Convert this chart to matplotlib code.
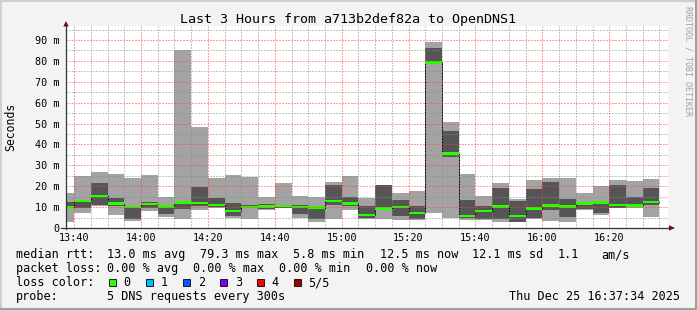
import matplotlib
matplotlib.use("Agg")
import matplotlib.pyplot as plt
from matplotlib.patches import Rectangle, Polygon

# 5-minute bins, start time in minutes after 13:00 (13:35 ... 16:30)
bin_start = list(range(35, 215, 5))
# smoke: outer range (min..max ping) and inner range, all in ms
light_lo = [3.1, 7.3, 10.5, 6.2, 3.5, 8.3, 5.4, 4.5, 8.8, 9.6,
            4.8, 4.5, 8.7, 9.5, 4.8, 3.0, 4.3, 8.7, 4.5, 4.3,
            3.8, 3.8, 7.3, 4.8, 3.8, 4.0, 3.0, 3.0, 4.3, 3.4,
            2.8, 8.7, 6.3, 9.4, 9.8, 5.3]
light_hi = [16.8, 25.0, 26.8, 25.8, 24.1, 25.4, 15.0, 85.2, 48.5, 24.1,
            25.4, 24.5, 15.0, 21.7, 15.3, 15.0, 22.0, 25.0, 14.5, 20.7,
            16.8, 17.8, 89.0, 50.7, 25.9, 15.3, 21.5, 14.0, 23.0, 24.0,
            24.0, 16.8, 20.1, 23.0, 22.5, 23.4]
dark_lo = [10.6, 9.6, 11.2, 10.3, 4.4, 9.7, 6.9, 9.2, 10.7, 10.2,
           5.8, 9.6, 9.2, 9.8, 6.7, 4.3, 10.8, 10.7, 5.0, 9.4,
           5.8, 4.3, 79.4, 34.0, 4.8, 4.1, 4.1, 3.0, 4.6, 8.6,
           5.2, 9.2, 7.4, 9.4, 10.2, 10.8]
dark_hi = [12.5, 12.4, 21.6, 14.4, 10.7, 12.6, 10.8, 13.0, 19.8, 14.5,
           12.1, 10.9, 11.6, 11.0, 10.8, 10.5, 20.6, 14.9, 10.5, 20.6,
           13.4, 10.6, 86.0, 46.4, 13.4, 10.5, 19.3, 13.0, 18.7, 22.0,
           13.9, 12.6, 13.0, 20.6, 14.9, 19.1]
median = [9.9, 12.9, 15.4, 11.7, 10.0, 11.5, 10.4, 12.2, 12.0, 11.1,
          8.1, 10.0, 10.2, 10.5, 10.1, 9.8, 12.9, 11.8, 6.3, 9.4,
          10.0, 7.1, 79.3, 35.6, 5.8, 8.1, 10.4, 5.8, 9.2, 10.9,
          10.2, 11.6, 12.1, 11.1, 10.9, 12.4]

x_ticks = [40, 60, 80, 100, 120, 140, 160, 180, 200]
x_labels = ["13:40", "14:00", "14:20", "14:40", "15:00", "15:20", "15:40", "16:00", "16:20"]
y_ticks = [0, 10, 20, 30, 40, 50, 60, 70, 80, 90]
y_labels = ["0"] + [f"{v} m" for v in y_ticks[1:]]

legend_rows = [
    [("median rtt:", 16), ("13.0 ms avg", 107), ("79.3 ms max", 200), ("5.8 ms min", 293),
     ("12.5 ms now", 380), ("12.1 ms sd", 472), ("1.1", 558), ("am/s", 601)],
    [("packet loss:", 16), ("0.00 % avg", 107), ("0.00 % max", 193), ("0.00 % min", 279),
     ("0.00 % now", 366)],
]
loss_names = ["0", "1", "2", "3", "4", "5/5"]
loss_colors = ["#26ff00", "#00b8ff", "#0059ff", "#7e00ff", "#ff0000", "#a10000"]

MONO = "DejaVu Sans Mono"
plt.rcParams["font.family"] = MONO

W, H = 697, 310
fig = plt.figure(figsize=(W / 100, H / 100), dpi=100, facecolor="#f3f3f3")

# plot area in pixels: x 66..668, y 26..228
ax = fig.add_axes([66 / W, 1 - 228 / H, (668 - 66) / W, (228 - 26) / H])
ax.set_facecolor("white")
for s in ax.spines.values():
    s.set_visible(False)

width = 5
ax.bar(bin_start, [h - l for l, h in zip(light_lo, light_hi)], bottom=light_lo,
       width=width, align="edge", color="#a3a3a3", linewidth=0, zorder=1)
ax.bar(bin_start, [h - l for l, h in zip(dark_lo, dark_hi)], bottom=dark_lo,
       width=width, align="edge", color="#555555", linewidth=0, zorder=1.2)
edges = bin_start + [bin_start[-1] + width]
ax.step(edges, median + [median[-1]], where="post", color="black", lw=0.7, zorder=1.5)
lh = 1.25
ax.bar(bin_start, [lh] * len(median), bottom=[m - lh / 2 for m in median],
       width=width, align="edge", color=loss_colors[0], linewidth=0, zorder=1.8)

ax.set_xlim(37 + 34 / 60, 217 + 34 / 60)
ax.set_ylim(0, 96.7)
ax.set_xticks(x_ticks)
ax.set_xticklabels(x_labels)
ax.set_xticks(range(40, 216, 5), minor=True)
ax.set_yticks(y_ticks)
ax.set_yticklabels(y_labels)
ax.set_yticks(range(5, 96, 5), minor=True)
ax.tick_params(which="both", length=0, labelsize=7.3)
ax.tick_params(axis="y", pad=5)
ax.tick_params(axis="x", pad=3.5)

ax.set_axisbelow(False)
ax.grid(which="minor", color=(0.55, 0.55, 0.55, 0.3), linestyle=(0, (1, 2)), lw=0.72)
ax.grid(which="major", color=(1.0, 0.25, 0.25, 0.32), linestyle=(0, (1, 2)), lw=0.72)

# overlay in pixel coordinates for frame, axes arrows, texts
ov = fig.add_axes([0, 0, 1, 1], zorder=5)
ov.set_xlim(0, W)
ov.set_ylim(H, 0)
ov.axis("off")
ov.patch.set_alpha(0)

ov.plot([1, 1, W - 1], [H - 1, 1, 1], color="#cfcfcf", lw=1.5)
ov.plot([1, W - 1, W - 1], [H - 1, H - 1, 1], color="#9e9e9e", lw=1.5)

ov.plot([66, 66], [229, 25], color="#333333", lw=0.9)
ov.plot([61, 670], [228, 228], color="#333333", lw=0.9)
ov.add_patch(Polygon([[63.3, 26.5], [68.7, 26.5], [66, 21]], closed=True, color="#7f0000", lw=0))
ov.add_patch(Polygon([[669, 225.3], [669, 230.7], [675, 228]], closed=True, color="#7f0000", lw=0))

ov.text(348, 19, "Last 3 Hours from a713b2def82a to OpenDNS1", ha="center", va="center", fontsize=9.6)
ov.text(11, 127, "Seconds", ha="center", va="center", rotation=90, fontsize=8.3)
ov.text(688, 6, "RRDTOOL / TOBI OETIKER", ha="center", va="top", rotation=270,
        fontsize=6, color="#a0a0a0")

row_y = [254.5, 268.5, 282.7, 296.5]
for row, y in zip(legend_rows, row_y):
    for txt, x in row:
        ov.text(x, y, txt, ha="left", va="center", fontsize=8.5)

ov.text(16, row_y[2], "loss color:", ha="left", va="center", fontsize=8.5)
sq_x = [108.5, 145.8, 182.8, 219.8, 256.8, 293.6]
for name, col, x in zip(loss_names, loss_colors, sq_x):
    ov.add_patch(Rectangle((x, row_y[2] - 3.6), 7, 7, facecolor=col, edgecolor="black", lw=0.6))
    ov.text(x + 15, row_y[2], name, ha="left", va="center", fontsize=8.5)

ov.text(16, row_y[3], "probe:", ha="left", va="center", fontsize=8.5)
ov.text(107, row_y[3], "5 DNS requests every 300s", ha="left", va="center", fontsize=8.5)
ov.text(680, row_y[3], "Thu Dec 25 16:37:34 2025", ha="right", va="center", fontsize=8.5)

fig.savefig("out.png", dpi=100, facecolor=fig.get_facecolor())
